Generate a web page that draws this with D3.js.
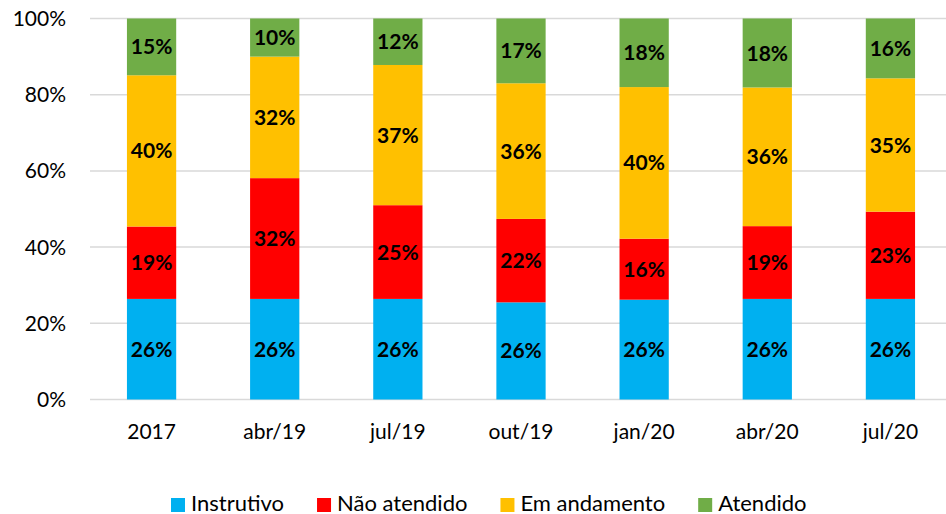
<!DOCTYPE html>
<html lang="pt">
<head>
    <meta charset="UTF-8">
    <title>Status</title>
    <script src="https://d3js.org/d3.v7.min.js"></script>
    <style>
        body { margin: 0; background: #fff; }
        svg { display: block; }
        .tick_text { font-family: Lato, sans-serif; font-size: 21px; fill: #000; }
        .bar_label { font-family: Lato, sans-serif; font-size: 21px; font-weight: bold; fill: #000; }
        .legend_text { font-family: Lato, sans-serif; font-size: 22px; fill: #000; }
    </style>
</head>
<body>
    <svg width="946" height="514"></svg>

    <script>
        const periods = ["2017", "abr/19", "jul/19", "out/19", "jan/20", "abr/20", "jul/20"];
        const series = ["Instrutivo", "Não atendido", "Em andamento", "Atendido"];
        const colorsList = ["#00B0F0", "#FF0000", "#FFC000", "#70AD47"];

        // shares (%)
        const instrutivo = [26.4, 26.4, 26.4, 25.5, 26.2, 26.4, 26.4];
        const naoAtendido = [19.0, 31.7, 24.6, 21.9, 16.0, 19.1, 22.9];
        const emAndamento = [39.7, 31.9, 36.8, 35.6, 39.8, 36.4, 35.0];
        const atendido = [14.9, 10.0, 12.2, 17.0, 18.0, 18.1, 15.7];
        const yTicks = [0, 20, 40, 60, 80, 100];

        let svg = d3.select("svg");

        const table = periods.map(function (p, i) {
            return {
                period: p,
                "Instrutivo": instrutivo[i],
                "Não atendido": naoAtendido[i],
                "Em andamento": emAndamento[i],
                "Atendido": atendido[i]
            };
        });

        const x = d3.scaleBand()
            .domain(periods)
            .range([90, 952])
            .paddingInner(0.6)
            .paddingOuter(0.3);

        const y = d3.scaleLinear()
            .domain([0, 100])
            .range([399.5, 18.5]);

        const color = d3.scaleOrdinal().domain(series).range(colorsList);

        // gridlines
        svg.append("g")
            .selectAll("line")
            .data(yTicks)
            .enter()
            .append("line")
            .attr("x1", 90)
            .attr("x2", 946)
            .attr("y1", d => y(d))
            .attr("y2", d => y(d))
            .attr("stroke", "#d9d9d9")
            .attr("stroke-width", 1.5);

        // y tick labels
        svg.append("g")
            .selectAll("text")
            .data(yTicks)
            .enter()
            .append("text")
            .attr("class", "tick_text")
            .attr("x", 66)
            .attr("y", d => y(d))
            .attr("dy", "0.36em")
            .attr("text-anchor", "end")
            .text(d => d + "%");

        const stacked = d3.stack().keys(series)(table);

        const layers = svg.append("g")
            .selectAll("g")
            .data(stacked)
            .enter()
            .append("g")
            .attr("fill", d => color(d.key));

        layers.selectAll("rect")
            .data(d => d)
            .enter()
            .append("rect")
            .attr("x", d => x(d.data.period))
            .attr("width", x.bandwidth())
            .attr("y", d => y(d[1]))
            .attr("height", d => y(d[0]) - y(d[1]));

        layers.selectAll("text")
            .data(d => d)
            .enter()
            .append("text")
            .attr("class", "bar_label")
            .attr("x", d => x(d.data.period) + x.bandwidth() / 2)
            .attr("y", d => (y(d[0]) + y(d[1])) / 2)
            .attr("dy", "0.36em")
            .attr("text-anchor", "middle")
            .text(d => Math.round(d[1] - d[0]) + "%");

        // x labels
        svg.append("g")
            .selectAll("text")
            .data(periods)
            .enter()
            .append("text")
            .attr("class", "tick_text")
            .attr("x", d => x(d) + x.bandwidth() / 2)
            .attr("y", 431)
            .attr("dy", "0.36em")
            .attr("text-anchor", "middle")
            .text(d => d);

        // legend
        const legend = svg.append("g");
        let lx = 171;
        series.forEach(function (s) {
            legend.append("rect")
                .attr("x", lx)
                .attr("y", 498)
                .attr("width", 14)
                .attr("height", 14)
                .attr("fill", color(s));
            let t = legend.append("text")
                .attr("class", "legend_text")
                .attr("x", lx + 20)
                .attr("y", 503.5)
                .attr("dy", "0.36em")
                .text(s);
            lx += 20 + t.node().getComputedTextLength() + 33;
        });
    </script>
</body>
</html>
